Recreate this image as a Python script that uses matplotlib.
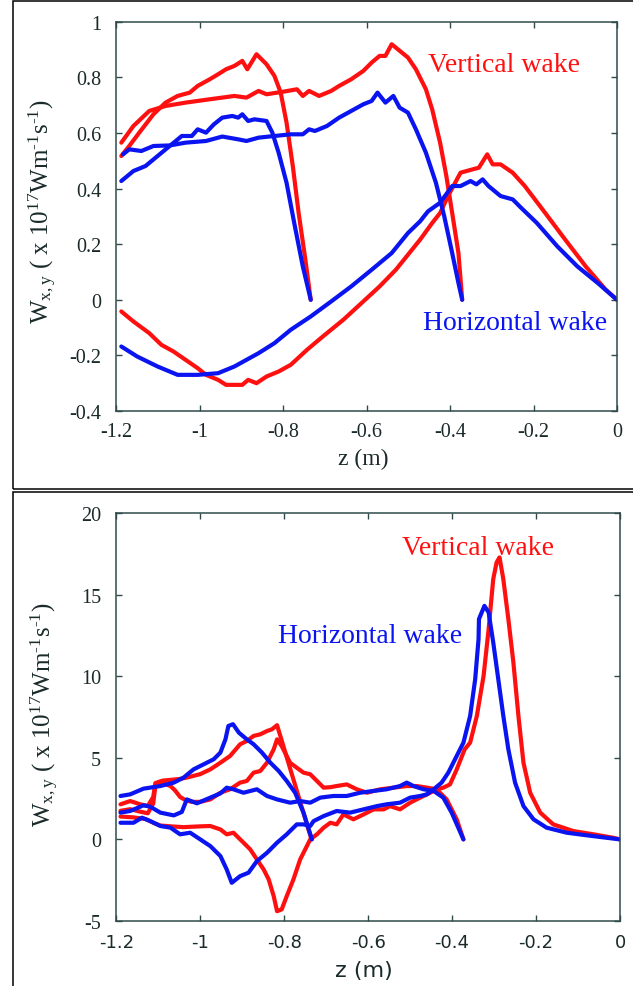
import matplotlib
matplotlib.use("Agg")
import matplotlib.pyplot as plt
from matplotlib.patches import Rectangle
from matplotlib.ticker import FormatStrFormatter

plt.rcParams['axes.unicode_minus'] = False
plt.rcParams['mathtext.fontset'] = 'custom'
plt.rcParams['mathtext.rm'] = 'Liberation Serif'
plt.rcParams['mathtext.it'] = 'Liberation Serif:italic'

# ---------------- top panel data ----------------
top_redA_z = [-1.188, -1.159, -1.121, -1.082, -1.034, -0.976, -0.917, -0.888, -0.859, -0.840, -0.801, -0.767,
              -0.753, -0.738, -0.714, -0.685, -0.666, -0.637, -0.608, -0.588, -0.569, -0.555, -0.540, -0.501,
              -0.482, -0.458, -0.443, -0.424, -0.409, -0.395, -0.380, -0.371]
top_redA_w = [0.565, 0.625, 0.679, 0.697, 0.709, 0.721, 0.733, 0.727, 0.751, 0.739, 0.748, 0.757,
              0.733, 0.751, 0.733, 0.751, 0.769, 0.793, 0.823, 0.853, 0.877, 0.877, 0.919, 0.871,
              0.829, 0.757, 0.685, 0.565, 0.445, 0.312, 0.168, 0.0]

top_redB_z = [-1.188, -1.169, -1.145, -1.111, -1.082, -1.053, -1.024, -1.005, -0.976, -0.956, -0.937, -0.917,
              -0.898, -0.886, -0.864, -0.840, -0.821, -0.806, -0.792, -0.777, -0.763, -0.748, -0.734]
top_redB_w = [0.517, 0.553, 0.601, 0.667, 0.709, 0.733, 0.745, 0.769, 0.793, 0.811, 0.829, 0.841,
              0.859, 0.829, 0.883, 0.847, 0.805, 0.745, 0.637, 0.481, 0.312, 0.156, 0.0]

top_redC_z = [-1.188, -1.159, -1.121, -1.092, -1.063, -1.034, -1.005, -0.985, -0.956, -0.937, -0.898, -0.884,
              -0.864, -0.840, -0.811, -0.782, -0.743, -0.705, -0.656, -0.608, -0.569, -0.530, -0.501, -0.472,
              -0.443, -0.424, -0.405, -0.375, -0.346, -0.331, -0.311, -0.298, -0.279, -0.250, -0.221, -0.172,
              -0.124, -0.075, -0.027, 0.0]
top_redC_w = [-0.042, -0.078, -0.120, -0.162, -0.186, -0.216, -0.246, -0.270, -0.288, -0.306, -0.306, -0.288,
              -0.300, -0.276, -0.258, -0.234, -0.180, -0.132, -0.072, -0.006, 0.048, 0.108, 0.162, 0.216,
              0.276, 0.312, 0.373, 0.457, 0.469, 0.475, 0.523, 0.487, 0.487, 0.457, 0.409, 0.312,
              0.216, 0.120, 0.036, 0.0]

top_blueA_z = [-1.184, -1.169, -1.140, -1.111, -1.072, -1.034, -0.985, -0.946, -0.908, -0.888, -0.859, -0.821,
               -0.782, -0.753, -0.738, -0.724, -0.695, -0.666, -0.637, -0.608, -0.588, -0.574, -0.555, -0.536,
               -0.521, -0.501, -0.482, -0.458, -0.434, -0.414, -0.395, -0.380, -0.371]
top_blueA_w = [0.523, 0.541, 0.535, 0.553, 0.555, 0.565, 0.571, 0.587, 0.577, 0.571, 0.583, 0.589,
               0.595, 0.595, 0.613, 0.607, 0.625, 0.655, 0.679, 0.703, 0.715, 0.745, 0.709, 0.733,
               0.691, 0.673, 0.613, 0.529, 0.421, 0.300, 0.168, 0.060, 0.0]

top_blueB_z = [-1.188, -1.159, -1.130, -1.101, -1.072, -1.043, -1.019, -1.005, -0.985, -0.966, -0.946, -0.922,
               -0.908, -0.898, -0.884, -0.869, -0.840, -0.826, -0.811, -0.792, -0.772, -0.753, -0.734]
top_blueB_w = [0.427, 0.463, 0.481, 0.517, 0.553, 0.589, 0.589, 0.613, 0.601, 0.631, 0.655, 0.661,
               0.655, 0.667, 0.643, 0.649, 0.643, 0.601, 0.529, 0.421, 0.264, 0.120, 0.0]

top_blueC_z = [-1.188, -1.150, -1.101, -1.053, -1.005, -0.956, -0.917, -0.888, -0.859, -0.821, -0.782, -0.734,
               -0.685, -0.637, -0.588, -0.540, -0.501, -0.472, -0.453, -0.424, -0.395, -0.375, -0.351, -0.337,
               -0.322, -0.308, -0.279, -0.250, -0.230, -0.192, -0.143, -0.095, -0.046, 0.0]
top_blueC_w = [-0.168, -0.204, -0.240, -0.270, -0.270, -0.264, -0.240, -0.216, -0.192, -0.156, -0.108, -0.060,
               -0.006, 0.048, 0.108, 0.168, 0.240, 0.282, 0.318, 0.349, 0.409, 0.409, 0.427, 0.415,
               0.433, 0.409, 0.373, 0.361, 0.331, 0.276, 0.192, 0.120, 0.060, 0.0]

# ---------------- bottom panel data ----------------
bot_redA_z = [-1.190, -1.167, -1.143, -1.125, -1.112, -1.107, -1.090, -1.071, -1.060, -1.048, -1.035, -1.020,
              -1.000, -0.976, -0.952, -0.929, -0.905, -0.889, -0.873, -0.857, -0.841, -0.825, -0.817, -0.806,
              -0.786, -0.770, -0.754, -0.738, -0.722, -0.706, -0.690, -0.675, -0.651, -0.627, -0.603, -0.571,
              -0.540, -0.508, -0.484, -0.460, -0.437, -0.413, -0.389, -0.373]
bot_redA_w = [1.75, 1.85, 1.70, 1.60, 2.20, 3.30, 3.45, 3.27, 3.00, 2.60, 2.40, 2.30,
              2.30, 2.45, 2.86, 3.07, 3.48, 3.58, 4.09, 4.19, 4.70, 5.52, 6.13, 5.72,
              4.70, 4.39, 4.09, 3.99, 3.58, 3.17, 3.20, 3.27, 3.37, 3.07, 2.86, 3.07,
              3.17, 3.27, 3.27, 3.17, 3.07, 2.45, 1.23, 0.0]

bot_redB_z = [-1.190, -1.167, -1.143, -1.125, -1.112, -1.107, -1.090, -1.070, -1.050, -1.030, -1.000, -0.976,
              -0.952, -0.929, -0.905, -0.889, -0.873, -0.857, -0.841, -0.829, -0.817, -0.735]
bot_redB_w = [2.15, 2.35, 2.15, 2.05, 2.60, 3.45, 3.60, 3.65, 3.70, 3.80, 4.00, 4.29,
              4.70, 5.11, 5.83, 6.03, 6.34, 6.44, 6.64, 6.75, 7.00, 0.0]

bot_redC_z = [-1.190, -1.160, -1.130, -1.110, -1.095, -1.070, -1.040, -1.000, -0.976, -0.952, -0.937, -0.921,
              -0.897, -0.881, -0.865, -0.849, -0.837, -0.825, -0.817, -0.806, -0.794, -0.778, -0.762, -0.746,
              -0.738, -0.722, -0.706, -0.690, -0.675, -0.659, -0.635, -0.611, -0.587, -0.563, -0.548, -0.524,
              -0.500, -0.476, -0.452, -0.437, -0.421, -0.405, -0.389, -0.370, -0.357, -0.341, -0.325, -0.313,
              -0.302, -0.294, -0.287, -0.278, -0.266, -0.254, -0.242, -0.230, -0.214, -0.190, -0.159, -0.111,
              -0.063, -0.016, 0.0]
bot_redC_w = [1.40, 1.35, 1.25, 1.00, 0.85, 0.80, 0.75, 0.80, 0.82, 0.61, 0.31, 0.41,
              -0.20, -0.61, -1.23, -1.84, -2.45, -3.48, -4.40, -4.29, -3.48, -2.45, -1.23, -0.41,
              0.00, 0.31, 0.72, 1.02, 0.92, 1.53, 1.23, 1.53, 1.84, 1.84, 2.04, 1.84,
              2.25, 2.56, 2.86, 3.07, 3.17, 3.37, 4.29, 5.52, 5.93, 7.57, 10.02, 12.88,
              15.95, 16.97, 17.28, 15.95, 13.50, 10.84, 7.57, 4.70, 2.86, 1.64, 0.92, 0.51,
              0.31, 0.10, 0.0]

bot_blueA_z = [-1.190, -1.167, -1.135, -1.119, -1.095, -1.063, -1.044, -1.032, -1.008, -0.976, -0.952, -0.937,
               -0.921, -0.897, -0.865, -0.841, -0.817, -0.786, -0.762, -0.738, -0.714, -0.683, -0.651, -0.619,
               -0.587, -0.556, -0.524, -0.508, -0.492, -0.468, -0.444, -0.421, -0.401, -0.373]
bot_blueA_w = [1.64, 1.74, 2.09, 2.00, 1.64, 1.47, 1.68, 2.45, 2.21, 2.56, 2.82, 3.17,
               3.07, 2.86, 3.07, 2.66, 2.45, 2.25, 2.35, 2.25, 2.56, 2.66, 2.66, 2.86,
               2.97, 3.07, 3.27, 3.48, 3.27, 3.07, 2.97, 2.56, 1.64, 0.0]

bot_blueB_z = [-1.190, -1.167, -1.135, -1.095, -1.063, -1.040, -1.016, -0.992, -0.968, -0.952, -0.940, -0.933,
               -0.922, -0.908, -0.889, -0.873, -0.853, -0.833, -0.813, -0.794, -0.774, -0.754, -0.734]
bot_blueB_w = [2.66, 2.76, 3.11, 3.27, 3.48, 3.78, 4.29, 4.60, 4.91, 5.32, 6.13, 6.95,
               7.06, 6.54, 6.13, 5.83, 5.32, 4.70, 4.19, 3.58, 2.86, 1.64, 0.0]

bot_blueC_z = [-1.190, -1.159, -1.139, -1.119, -1.095, -1.071, -1.048, -1.024, -1.000, -0.976, -0.952, -0.937,
               -0.925, -0.905, -0.885, -0.865, -0.841, -0.817, -0.794, -0.770, -0.754, -0.738, -0.730, -0.706,
               -0.675, -0.643, -0.611, -0.579, -0.556, -0.524, -0.500, -0.476, -0.460, -0.444, -0.425, -0.409,
               -0.393, -0.373, -0.357, -0.345, -0.337, -0.336, -0.323, -0.313, -0.302, -0.290, -0.278, -0.266,
               -0.250, -0.230, -0.206, -0.175, -0.127, -0.079, -0.032, 0.0]
bot_blueC_w = [1.02, 1.02, 1.33, 1.12, 0.82, 0.72, 0.31, 0.41, 0.00, -0.41, -1.02, -1.84,
               -2.66, -2.25, -2.04, -1.33, -0.82, -0.20, 0.31, 0.92, 0.92, 0.82, 1.12, 1.43,
               1.74, 1.64, 1.84, 2.04, 2.15, 2.25, 2.56, 2.66, 2.76, 3.07, 3.48, 4.09,
               4.91, 5.93, 7.57, 9.82, 12.27, 13.50, 14.31, 13.91, 12.07, 9.82, 7.57, 5.52,
               3.48, 2.04, 1.23, 0.72, 0.41, 0.25, 0.10, 0.0]

top_xticks = [-1.2, -1.0, -0.8, -0.6, -0.4, -0.2, 0.0]
top_yticks = [-0.4, -0.2, 0.0, 0.2, 0.4, 0.6, 0.8, 1.0]
bot_yticks = [-5, 0, 5, 10, 15, 20]

ylabel_text = r'W$_{\rm x,y}$ ( x 10$^{\rm 17}$Wm$^{\text{-1}}$s$^{\text{-1}}$)'
xlabel_text = 'z (m)'
vert_label = 'Vertical wake'
horiz_label = 'Horizontal wake'

RED = '#ff1010'
BLUE = '#0a14f0'
SPINE = '#2f4a4a'
TXT = '#1a2a2a'
SERIF = 'Liberation Serif'
SANS = 'DejaVu Sans'

W, H = 633, 987
fig = plt.figure(figsize=(W / 100, H / 100), dpi=100)


def fx(px):
    return px / W


def fy(py):
    return 1 - py / H


# panel frames
for (y0, y1) in [(1.7, 489.5), (492.5, 995)]:
    fig.add_artist(Rectangle((fx(13), fy(y1)), fx(660 - 13), (y1 - y0) / H,
                             transform=fig.transFigure, fill=False, edgecolor='black',
                             linewidth=1.1, clip_on=False))

ax1 = fig.add_axes([fx(116.3), fy(412), (617 - 116.3) / W, (412 - 22.7) / H])
ax2 = fig.add_axes([fx(116.3), fy(922), (620 - 116.3) / W, (922 - 514) / H])

lw = 3.0
for ax, curves in [
    (ax1, [(top_redA_z, top_redA_w, RED), (top_redB_z, top_redB_w, RED), (top_redC_z, top_redC_w, RED),
           (top_blueA_z, top_blueA_w, BLUE), (top_blueB_z, top_blueB_w, BLUE), (top_blueC_z, top_blueC_w, BLUE)]),
    (ax2, [(bot_redA_z, bot_redA_w, RED), (bot_redB_z, bot_redB_w, RED), (bot_redC_z, bot_redC_w, RED),
           (bot_blueA_z, bot_blueA_w, BLUE), (bot_blueB_z, bot_blueB_w, BLUE), (bot_blueC_z, bot_blueC_w, BLUE)]),
]:
    for z, w, c in curves:
        ax.plot(z, w, color=c, lw=lw, solid_joinstyle='round', solid_capstyle='round')

ax1.set_xlim(-1.2, 0)
ax1.set_ylim(-0.4, 1.0)
ax2.set_xlim(-1.2, 0)
ax2.set_ylim(-5, 20)
ax1.set_xticks(top_xticks)
ax2.set_xticks(top_xticks)
ax1.set_yticks(top_yticks)
ax2.set_yticks(bot_yticks)
ax1.xaxis.set_major_formatter(FormatStrFormatter('%g'))
ax1.yaxis.set_major_formatter(FormatStrFormatter('%g'))
ax2.xaxis.set_major_formatter(FormatStrFormatter('%g'))
ax2.yaxis.set_major_formatter(FormatStrFormatter('%g'))

for ax in (ax1, ax2):
    for s in ax.spines.values():
        s.set_color(SPINE)
        s.set_linewidth(1.1)
    ax.tick_params(direction='in', length=4.5, width=1.0, color=SPINE, top=True, right=True,
                   labelcolor=TXT)
    for lab in ax.get_yticklabels():
        lab.set_fontfamily(SERIF)
        lab.set_fontsize(14.5)
    ax.tick_params(axis='y', pad=11)

for lab in ax1.get_xticklabels():
    lab.set_fontfamily(SERIF)
    lab.set_fontsize(14.5)
ax1.tick_params(axis='x', pad=8)
for lab in ax2.get_xticklabels():
    lab.set_fontfamily(SANS)
    lab.set_fontsize(13)
ax2.tick_params(axis='x', pad=9)

# axis labels
fig.text(fx(43), fy(212), ylabel_text, rotation=90, ha='center', va='center',
         fontsize=18, family=SERIF, color=TXT)
fig.text(fx(45), fy(715), ylabel_text, rotation=90, ha='center', va='center',
         fontsize=18, family=SERIF, color=TXT)
fig.text(fx(363), fy(459), xlabel_text, ha='center', va='center', fontsize=17,
         family=SERIF, color=TXT)
fig.text(fx(364), fy(971), xlabel_text, ha='center', va='center', fontsize=16,
         family=SANS, color=TXT)

# annotations
fig.text(fx(504), fy(72), vert_label, ha='center', va='baseline', fontsize=20,
         family=SERIF, color=RED)
fig.text(fx(515), fy(330), horiz_label, ha='center', va='baseline', fontsize=20,
         family=SERIF, color=BLUE)
fig.text(fx(478), fy(555), vert_label, ha='center', va='baseline', fontsize=20,
         family=SERIF, color=RED)
fig.text(fx(370), fy(643), horiz_label, ha='center', va='baseline', fontsize=20,
         family=SERIF, color=BLUE)

fig.savefig('out.png', dpi=100)
